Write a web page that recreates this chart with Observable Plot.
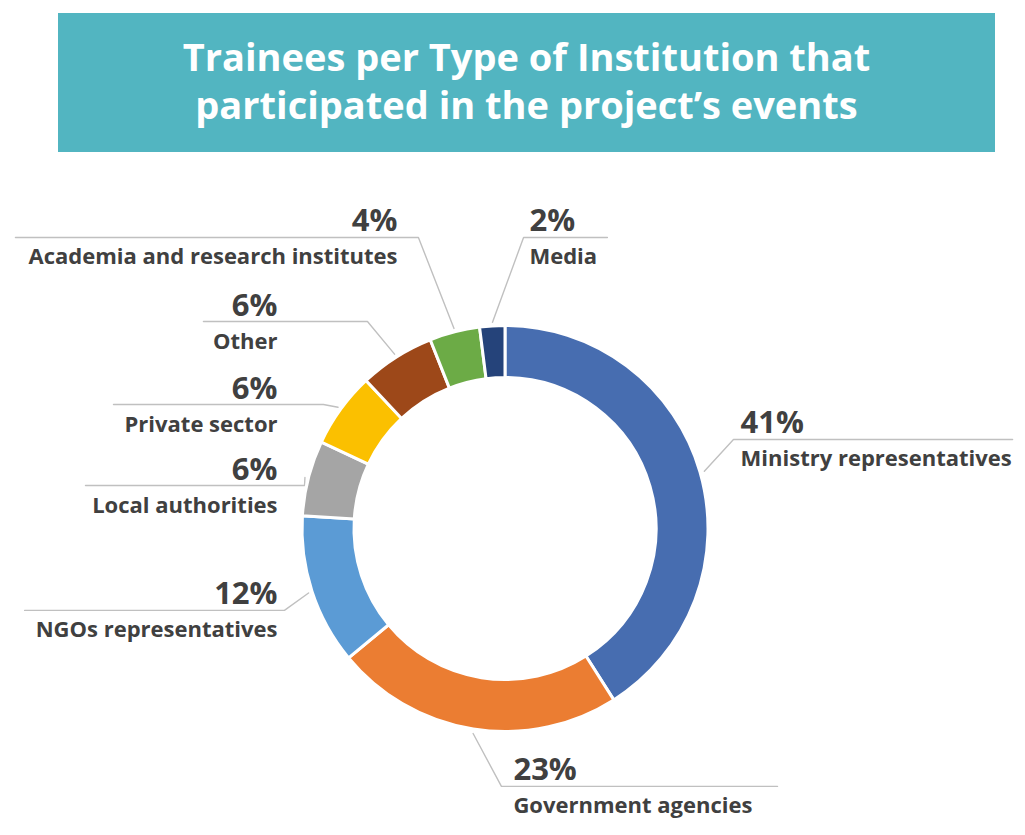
<!DOCTYPE html>
<html>
<head>
<meta charset="utf-8">
<script src="https://cdn.jsdelivr.net/npm/d3@7"></script>
<script src="https://cdn.jsdelivr.net/npm/@observablehq/plot@0.6"></script>
<style>
  html, body { margin: 0; padding: 0; background: #ffffff; }
  body { width: 1025px; height: 835px; overflow: hidden; font-family: "Open Sans", sans-serif; }
  #title {
    margin: 13px 0 0 58px; width: 937px; height: 139px; background: #52b5c1;
    display: flex; align-items: center; justify-content: center; box-sizing: border-box; padding-bottom: 6px;
    color: #ffffff; font-family: "Open Sans", sans-serif; font-weight: 700; font-size: 38px; line-height: 48px;
    text-align: center; font-stretch: 100%; letter-spacing: 0px;
  }
  #chart svg { display: block; }
</style>
</head>
<body>
<div id="title"><div>Trainees per Type of Institution that<br>participated in the project’s events</div></div>
<div id="chart"></div>
<script>
// ---- data ----
const categories = ["Ministry representatives", "Government agencies", "NGOs representatives", "Local authorities", "Private sector", "Other", "Academia and research institutes", "Media"];
const shares = [41, 23, 12, 6, 6, 6, 4, 2];
const colors = ["#476db0", "#eb7d32", "#5b9bd5", "#a5a5a5", "#fbc000", "#9d4819", "#6cab46", "#25437a"];

// ---- label layout (in units of the outer radius, centre = 0,0) ----
const labelElbowX = [1.123, -0.020, -1.089, -0.990, -0.897, -0.680, -0.429, 0.089];
const labelLineY  = [0.441, -1.268, -0.401, 0.214, 0.613, 1.022, 1.436, 1.436];
const labelEndX   = [2.498, 1.340, -2.369, -2.069, -1.931, -1.488, -2.414, 0.502];
const labelTextX  = [1.158, 0.039, -1.123, -1.123, -1.123, -1.123, -0.532, 0.118];
const labelSide   = ["right", "right", "left", "left", "left", "left", "left", "right"];

const innerRatio = 0.744;
const R = 203, cx = 505, cy = 376.5, W = 1025, H = 683;

const rows = categories.map((c, i) => ({category: c, share: shares[i]}));

// leader lines
const total = d3.sum(shares);
let cum = 0;
const leaders = [];
const labels = [];
rows.forEach((d, i) => {
  const a = 2 * Math.PI * (cum + d.share / 2) / total;
  cum += d.share;
  const r0 = 1.02;
  leaders.push({category: d.category, x: r0 * Math.sin(a), y: r0 * Math.cos(a)});
  leaders.push({category: d.category, x: labelElbowX[i], y: labelLineY[i]});
  leaders.push({category: d.category, x: labelEndX[i], y: labelLineY[i]});
  labels.push({category: d.category, pct: d.share + "%", x: labelTextX[i], y: labelLineY[i], side: labelSide[i]});
});

const donut = Plot.dot(rows, {
  x: () => 0, y: () => 0, fill: "category",
  render(index, scales, values, dimensions, context) {
    const x0 = scales.x(0), y0 = scales.y(0);
    const rad = scales.x(1) - scales.x(0);
    const arcs = d3.pie().sort(null).value(i => rows[i].share)(Array.from(index));
    const g = d3.create("svg:g");
    g.selectAll("path").data(arcs).join("path")
      .attr("transform", `translate(${x0},${y0})`)
      .attr("d", d3.arc().innerRadius(rad * innerRatio).outerRadius(rad))
      .attr("fill", d => values.fill ? values.fill[d.data] : scales.color(rows[d.data].category))
      .attr("stroke", "#ffffff")
      .attr("stroke-width", 3)
      .attr("stroke-linejoin", "miter");
    return g.node();
  }
});

const textFill = "#404040";
const font = "'Open Sans', sans-serif";

const chart = Plot.plot({
  width: W, height: H,
  margin: 0, marginTop: 0, marginRight: 0, marginBottom: 0, marginLeft: 0,
  x: {domain: [-cx / R, (W - cx) / R], range: [0, W], axis: null},
  y: {domain: [-(H - cy) / R, cy / R], range: [H, 0], axis: null},
  color: {domain: categories, range: colors},
  style: {fontFamily: font, background: "transparent", overflow: "visible"},
  marks: [
    Plot.line(leaders, {x: "x", y: "y", z: "category", stroke: "#c0c0c0", strokeWidth: 1.4, curve: "linear"}),
    donut,
    Plot.text(labels.filter(d => d.side === "right"), {x: "x", y: "y", text: "pct", textAnchor: "start", lineAnchor: "bottom", dy: -6, fontSize: 31, fontWeight: 700, fill: textFill}),
    Plot.text(labels.filter(d => d.side === "right"), {x: "x", y: "y", text: "category", textAnchor: "start", lineAnchor: "bottom", dy: 27, fontSize: 22, fontWeight: 700, fill: textFill}),
    Plot.text(labels.filter(d => d.side === "left"), {x: "x", y: "y", text: "pct", textAnchor: "end", lineAnchor: "bottom", dy: -6, fontSize: 31, fontWeight: 700, fill: textFill}),
    Plot.text(labels.filter(d => d.side === "left"), {x: "x", y: "y", text: "category", textAnchor: "end", lineAnchor: "bottom", dy: 27, fontSize: 22, fontWeight: 700, fill: textFill})
  ]
});
document.getElementById("chart").appendChild(chart);
</script>
</body>
</html>
